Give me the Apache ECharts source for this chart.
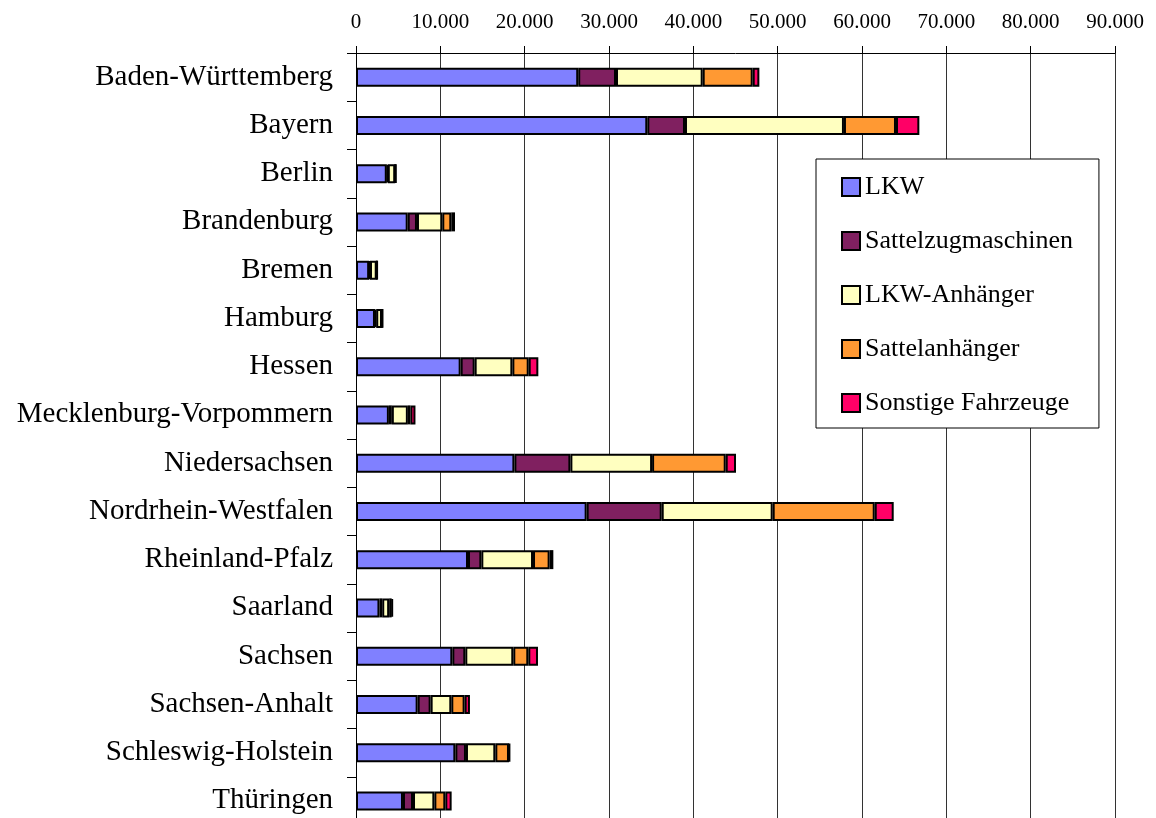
<!DOCTYPE html>
<html>
<head>
<meta charset="utf-8">
<script src="https://cdn.jsdelivr.net/npm/echarts@6/dist/echarts.min.js"></script>
<style>
  html, body { margin: 0; padding: 0; background: #fff; }
  #chart { width: 1156px; height: 818px; }
</style>
</head>
<body>
<div id="chart"></div>
<script>
// Bundesländer, top to bottom
const laender = [
  'Baden-Württemberg', 'Bayern', 'Berlin', 'Brandenburg', 'Bremen', 'Hamburg',
  'Hessen', 'Mecklenburg-Vorpommern', 'Niedersachsen', 'Nordrhein-Westfalen',
  'Rheinland-Pfalz', 'Saarland', 'Sachsen', 'Sachsen-Anhalt',
  'Schleswig-Holstein', 'Thüringen'
];

// Fahrzeugbestand je Fahrzeugart
const lkw              = [26350, 34540, 3650, 6130, 1560, 2250, 12410, 3900, 18780, 27350, 13280, 2780, 11420, 7310, 11780, 5570];
const sattelzug        = [4480, 4470, 120, 1100, 100, 150, 1660, 350, 6640, 8900, 1580, 330, 1540, 1540, 1260, 1190];
const lkwAnhaenger     = [10280, 18850, 880, 3000, 800, 680, 4470, 1900, 9690, 13160, 6130, 820, 5690, 2450, 3480, 2530];
const sattelanhaenger  = [5930, 6170, 40, 1070, 30, 40, 1940, 300, 8730, 12100, 1970, 300, 1780, 1580, 1620, 1300];
const sonstige         = [790, 2770, 30, 440, 20, 20, 1140, 600, 1220, 2250, 440, 120, 1150, 630, 100, 750];

const seriesDefs = [
  { name: 'LKW', data: lkw, color: '#8080FF' },
  { name: 'Sattelzugmaschinen', data: sattelzug, color: '#802060' },
  { name: 'LKW-Anhänger', data: lkwAnhaenger, color: '#FFFFC0' },
  { name: 'Sattelanhänger', data: sattelanhaenger, color: '#FF9933' },
  { name: 'Sonstige Fahrzeuge', data: sonstige, color: '#FF0066' }
];

const serif = "'Liberation Serif', 'Times New Roman', 'DejaVu Serif', serif";

const chart = echarts.init(document.getElementById('chart'), null, { renderer: 'canvas' });

chart.setOption({
  animation: false,
  backgroundColor: '#fff',
  // the last row runs slightly past the lower edge of the canvas
  grid: { left: 356, width: 759, top: 53, height: 772, containLabel: false, outerBoundsMode: 'none' },
  legend: {
    orient: 'vertical',
    left: 816,
    top: 159,
    padding: [15, 26, 12, 25],
    itemGap: 28,
    itemWidth: 18,
    itemHeight: 18,
    backgroundColor: '#fff',
    borderColor: '#000',
    borderWidth: 1,
    borderRadius: 0,
    icon: 'rect',
    itemStyle: { borderColor: '#000', borderWidth: 2 },
    textStyle: { fontFamily: serif, fontSize: 26, color: '#000', lineHeight: 26 },
    data: seriesDefs.map(s => s.name)
  },
  xAxis: {
    type: 'value',
    position: 'top',
    min: 0,
    max: 90000,
    interval: 10000,
    axisLine: { show: true, lineStyle: { color: '#000', width: 1 } },
    axisTick: { show: true, length: 7, lineStyle: { color: '#000', width: 1 } },
    axisLabel: {
      fontFamily: serif, fontSize: 21, color: '#000', margin: 20,
      formatter: v => v === 0 ? '0' : String(v).replace(/\B(?=(\d{3})+(?!\d))/g, '.')
    },
    splitLine: { show: true, lineStyle: { color: '#333', width: 1 } }
  },
  yAxis: {
    type: 'category',
    inverse: true,
    data: laender,
    axisLine: { show: true, lineStyle: { color: '#000', width: 1 } },
    axisTick: { show: true, length: 9, alignWithLabel: false, lineStyle: { color: '#000', width: 1 } },
    axisLabel: { fontFamily: serif, fontSize: 29, color: '#000', margin: 23 }
  },
  series: seriesDefs.map(s => ({
    name: s.name,
    type: 'bar',
    stack: 'bestand',
    data: s.data,
    barWidth: 19,
    itemStyle: { color: s.color, borderColor: '#000', borderWidth: 2 },
    emphasis: { disabled: true }
  }))
});
</script>
</body>
</html>
